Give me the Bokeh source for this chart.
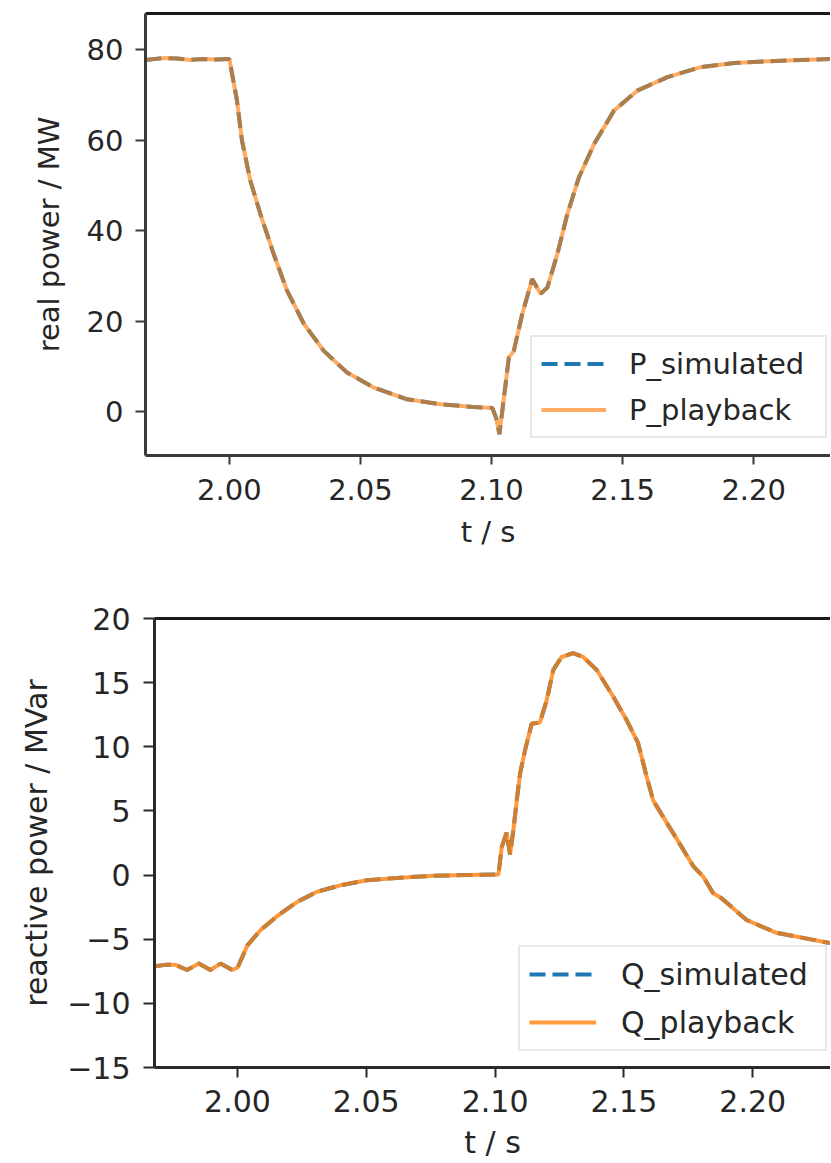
from bokeh.plotting import figure
from bokeh.models import Range1d, FixedTicker, LinearAxis, Legend, LegendItem, PrintfTickFormatter
from bokeh.layouts import column
from bokeh.embed import file_html
from bokeh.resources import INLINE

# ---------------- data ----------------
t_P = [1.968, 1.975, 1.980, 1.985, 1.990, 1.995, 2.000, 2.0029, 2.0048, 2.008,
       2.0118, 2.0169, 2.022, 2.0284, 2.036, 2.0449, 2.0551, 2.0678, 2.0805, 2.0932,
       2.1003, 2.1018, 2.1030, 2.1045, 2.1066, 2.1085, 2.1117, 2.1155, 2.1187, 2.1213,
       2.1251, 2.1289, 2.1333, 2.1391, 2.1467, 2.1556, 2.1671, 2.1798, 2.1925, 2.2052,
       2.2179, 2.2300]
P_simulated = [77.7, 78.1, 78.0, 77.7, 77.9, 77.8, 77.9, 68.7, 59.9, 51.0,
               43.7, 34.8, 26.7, 19.4, 13.4, 8.6, 5.3, 2.7, 1.6, 1.0,
               0.8, -1.5, -5.0, 2.0, 11.9, 13.4, 21.5, 29.3, 26.0, 27.4,
               34.8, 43.6, 51.7, 59.1, 66.5, 70.9, 73.9, 76.1, 77.0, 77.4,
               77.7, 77.9]
P_playback = [77.7, 78.1, 78.0, 77.7, 77.9, 77.8, 77.9, 68.7, 59.9, 51.0,
              43.7, 34.8, 26.7, 19.4, 13.4, 8.6, 5.3, 2.7, 1.6, 1.0,
              0.8, -1.5, -5.0, 2.0, 11.9, 13.4, 21.5, 29.3, 26.0, 27.4,
              34.8, 43.6, 51.7, 59.1, 66.5, 70.9, 73.9, 76.1, 77.0, 77.4,
              77.7, 77.9]

t_Q = [1.968, 1.972, 1.976, 1.9805, 1.985, 1.9895, 1.9934, 1.998, 2.0001, 2.0038,
       2.0089, 2.0154, 2.0231, 2.0309, 2.0399, 2.0503, 2.0632, 2.0761, 2.089, 2.1013,
       2.1026, 2.1045, 2.1058, 2.1071, 2.1084, 2.1097, 2.1116, 2.1142, 2.1174, 2.1200,
       2.1226, 2.1258, 2.1303, 2.1342, 2.1394, 2.1459, 2.1510, 2.1555, 2.1588, 2.1614,
       2.1678, 2.1730, 2.1769, 2.1807, 2.1846, 2.1879, 2.1976, 2.2092, 2.2300]
Q_simulated = [-7.1, -7.0, -7.0, -7.4, -6.9, -7.4, -6.9, -7.4, -7.2, -5.5,
               -4.3, -3.2, -2.1, -1.3, -0.8, -0.4, -0.2, -0.06, 0.0, 0.05,
               2.2, 3.3, 1.6, 3.5, 5.8, 7.9, 9.7, 11.8, 11.9, 13.6,
               16.0, 17.0, 17.3, 17.0, 16.0, 13.9, 12.1, 10.3, 7.7, 5.8,
               3.7, 2.0, 0.7, -0.1, -1.4, -1.8, -3.5, -4.5, -5.3]
Q_playback = [-7.1, -7.0, -7.0, -7.4, -6.9, -7.4, -6.9, -7.4, -7.2, -5.5,
              -4.3, -3.2, -2.1, -1.3, -0.8, -0.4, -0.2, -0.06, 0.0, 0.05,
              2.2, 3.3, 1.6, 3.5, 5.8, 7.9, 9.7, 11.8, 11.9, 13.6,
              16.0, 17.0, 17.3, 17.0, 16.0, 13.9, 12.1, 10.3, 7.7, 5.8,
              3.7, 2.0, 0.7, -0.1, -1.4, -1.8, -3.5, -4.5, -5.3]

x_ticks = [2.00, 2.05, 2.10, 2.15, 2.20]
P_ticks = [0, 20, 40, 60, 80]
Q_ticks = [-15, -10, -5, 0, 5, 10, 15, 20]

FONT = "DejaVu Sans"
TXT = "#262626"
BLUE = "#1f77b4"
ORANGE = "#ff7f0e"


def style_axes(p, fs, spine, left_tick_out, left_standoff, left_label_standoff,
               bot_tick_out, bot_standoff, bot_label_standoff):
    p.xgrid.visible = False
    p.ygrid.visible = False
    for ax in p.xaxis + p.yaxis:
        ax.axis_line_color = spine
        ax.axis_line_width = 3
        ax.major_tick_line_color = spine
        ax.major_tick_line_width = 2
        ax.major_tick_in = 0
        ax.minor_tick_line_color = None
        ax.major_label_text_font = FONT
        ax.major_label_text_font_size = fs
        ax.major_label_text_color = TXT
        ax.axis_label_text_font = FONT
        ax.axis_label_text_font_size = fs
        ax.axis_label_text_font_style = "normal"
        ax.axis_label_text_color = TXT
    p.yaxis.major_tick_out = left_tick_out
    p.yaxis.major_label_standoff = left_standoff
    p.yaxis.axis_label_standoff = left_label_standoff
    p.xaxis.major_tick_out = bot_tick_out
    p.xaxis.major_label_standoff = bot_standoff
    p.xaxis.axis_label_standoff = bot_label_standoff
    p.xaxis.ticker = FixedTicker(ticks=x_ticks)
    p.xaxis.formatter = PrintfTickFormatter(format="%.2f")
    top = LinearAxis(ticker=FixedTicker(ticks=[]), major_label_text_font_size="0px",
                     major_tick_out=0, major_tick_in=0, minor_tick_out=0, minor_tick_in=0,
                     axis_line_color="#1a1a1a", axis_line_width=3, major_label_standoff=0)
    p.add_layout(top, "above")


def add_legend(p, items, loc, fs, glyph_w, standoff, lab_h, spacing, lab_w):
    leg = Legend(items=items, location=loc, margin=0)
    leg.label_text_font = FONT
    leg.label_text_font_size = fs
    leg.label_text_color = TXT
    leg.glyph_width = glyph_w
    leg.glyph_height = lab_h
    leg.label_height = lab_h
    leg.label_width = lab_w
    leg.label_standoff = standoff
    leg.padding = 9
    leg.spacing = spacing
    leg.border_line_color = "#d0d0d0"
    leg.border_line_width = 2
    leg.background_fill_alpha = 0.85
    p.add_layout(leg)


# ---------------- top: real power ----------------
p1 = figure(width=830, height=570, output_backend="svg", toolbar_location=None,
            x_range=Range1d(1.968, 2.2293), y_range=Range1d(-9.72, 87.96),
            min_border_left=145, min_border_right=0, min_border_top=13, min_border_bottom=115,
            outline_line_color=None, background_fill_color="white")
r1 = p1.line(t_P, P_simulated, line_color=BLUE, line_width=4, line_dash="16 7")
r2 = p1.line(t_P, P_playback, line_color=ORANGE, line_width=4, line_alpha=0.65)
p1.xaxis.axis_label = "t / s"
p1.yaxis.axis_label = "real power / MW"
style_axes(p1, "29px", "#3a3a3a", 10, 12, 18, 9, 14, 12)
p1.yaxis.ticker = FixedTicker(ticks=P_ticks)
add_legend(p1, [LegendItem(label="P_simulated", renderers=[r1]),
                LegendItem(label="P_playback", renderers=[r2])],
           (385, 17), "29px", 65, 23, 35, 11, 187)

# ---------------- bottom: reactive power ----------------
p2 = figure(width=821, height=592, output_backend="svg", toolbar_location=None,
            x_range=Range1d(1.9678, 2.2302), y_range=Range1d(-15, 20),
            min_border_left=145, min_border_right=0, min_border_top=48, min_border_bottom=95,
            outline_line_color=None, background_fill_color="white",
            margin=(0, 0, 0, 9))
r3 = p2.line(t_Q, Q_simulated, line_color=BLUE, line_width=4, line_dash="16 7")
r4 = p2.line(t_Q, Q_playback, line_color=ORANGE, line_width=4, line_alpha=0.8)
p2.xaxis.axis_label = "t / s"
p2.yaxis.axis_label = "reactive power / MVar"
style_axes(p2, "30px", "#2a2a2a", 11, 13, 10, 10, 12, 10)
p2.yaxis.ticker = FixedTicker(ticks=Q_ticks)
p2.yaxis.major_label_overrides = {v: (("\u2212" + str(-v)) if v < 0 else str(v)) for v in Q_ticks}
add_legend(p2, [LegendItem(label="Q_simulated", renderers=[r3]),
                LegendItem(label="Q_playback", renderers=[r4])],
           (364, 16), "30px", 67, 25, 36, 12, 195)

layout = column(p1, p2, spacing=0)
open("out.html", "w").write(file_html(layout, INLINE))
